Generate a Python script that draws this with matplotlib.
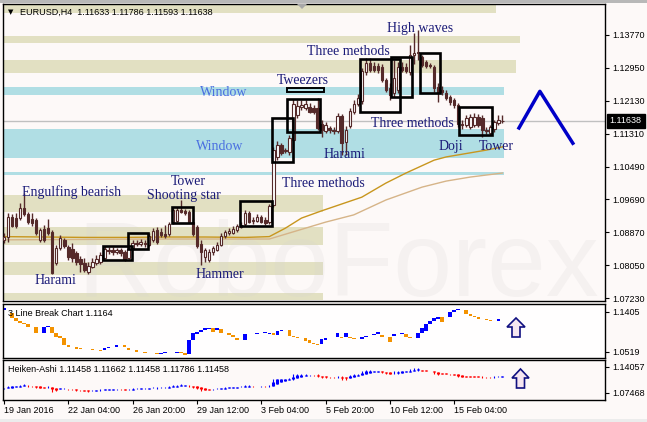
import numpy as np
import matplotlib.pyplot as plt
import matplotlib.transforms as mtransforms
from matplotlib.patches import Rectangle, Polygon

plt.rcParams['font.family'] = ['Liberation Sans', 'DejaVu Sans']

# ---- EURUSD H4 candles ----
opens = [
    1.0868, 1.0875, 1.0925, 1.0922, 1.0922, 1.0947, 1.0932, 1.0920, 1.0917, 1.0868,
    1.0895, 1.0897, 1.0887, 1.0810, 1.0848, 1.0868, 1.0850, 1.0845, 1.0835, 1.0820,
    1.0810, 1.0788, 1.0801, 1.0810, 1.0813, 1.0823, 1.0843, 1.0843, 1.0838, 1.0843,
    1.0838, 1.0823, 1.0848, 1.0860, 1.0858, 1.0860, 1.0855, 1.0868, 1.0892, 1.0887,
    1.0882, 1.0882, 1.0912, 1.0915, 1.0942, 1.0940, 1.0937, 1.0912, 1.0900, 1.0858,
    1.0825, 1.0818, 1.0838, 1.0843, 1.0855, 1.0878, 1.0885, 1.0885, 1.0892, 1.0900,
    1.0907, 1.0935, 1.0915, 1.0915, 1.0925, 1.0917, 1.0912, 1.0955, 1.1074, 1.1104,
    1.1089, 1.1086, 1.1116, 1.1178, 1.1198, 1.1196, 1.1198, 1.1196, 1.1196, 1.1156,
    1.1138, 1.1146, 1.1141, 1.1138, 1.1176, 1.1111, 1.1151, 1.1186, 1.1206, 1.1213,
    1.1285, 1.1307, 1.1300, 1.1300, 1.1297, 1.1265, 1.1245, 1.1233, 1.1240, 1.1297,
    1.1297, 1.1285, 1.1327, 1.1332, 1.1322, 1.1310, 1.1302, 1.1297, 1.1248, 1.1240,
    1.1233, 1.1223, 1.1216, 1.1203, 1.1156, 1.1153, 1.1148, 1.1153, 1.1173, 1.1171,
    1.1141, 1.1133, 1.1143, 1.1158, 1.11633]
closes = [
    1.0875, 1.0925, 1.0902, 1.0902, 1.0947, 1.0932, 1.0912, 1.0910, 1.0885, 1.0892,
    1.0868, 1.0885, 1.0786, 1.0848, 1.0873, 1.0853, 1.0825, 1.0823, 1.0813, 1.0808,
    1.0793, 1.0803, 1.0813, 1.0820, 1.0830, 1.0845, 1.0840, 1.0838, 1.0843, 1.0835,
    1.0820, 1.0845, 1.0860, 1.0858, 1.0863, 1.0858, 1.0878, 1.0890, 1.0863, 1.0880,
    1.0878, 1.0907, 1.0942, 1.0942, 1.0937, 1.0935, 1.0912, 1.0882, 1.0853, 1.0838,
    1.0843, 1.0838, 1.0848, 1.0855, 1.0878, 1.0887, 1.0890, 1.0895, 1.0902, 1.0905,
    1.0935, 1.0912, 1.0917, 1.0925, 1.0912, 1.0910, 1.0952, 1.1091, 1.1104, 1.1084,
    1.1091, 1.1121, 1.1206, 1.1201, 1.1203, 1.1206, 1.1186, 1.1186, 1.1146, 1.1141,
    1.1153, 1.1141, 1.1138, 1.1176, 1.1109, 1.1141, 1.1188, 1.1206, 1.1220, 1.1288,
    1.1307, 1.1290, 1.1290, 1.1290, 1.1265, 1.1240, 1.1228, 1.1270, 1.1297, 1.1290,
    1.1288, 1.1327, 1.1332, 1.1335, 1.1302, 1.1300, 1.1300, 1.1245, 1.1233, 1.1235,
    1.1220, 1.1211, 1.1203, 1.1156, 1.1153, 1.1171, 1.1173, 1.1173, 1.1153, 1.1141,
    1.1138, 1.1148, 1.1161, 1.1166, 1.11638]
highs = [
    1.0885, 1.0935, 1.0932, 1.0935, 1.0960, 1.0984, 1.0937, 1.0935, 1.0922, 1.0897,
    1.0905, 1.0920, 1.0892, 1.0855, 1.0880, 1.0873, 1.0855, 1.0860, 1.0840, 1.0828,
    1.0823, 1.0813, 1.0823, 1.0830, 1.0838, 1.0853, 1.0850, 1.0850, 1.0848, 1.0848,
    1.0843, 1.0850, 1.0868, 1.0868, 1.0870, 1.0868, 1.0885, 1.0897, 1.0900, 1.0897,
    1.0905, 1.0912, 1.0947, 1.0950, 1.0967, 1.0945, 1.0942, 1.0922, 1.0905, 1.0868,
    1.0848, 1.0845, 1.0853, 1.0863, 1.0885, 1.0892, 1.0897, 1.0902, 1.0907, 1.0912,
    1.0942, 1.0940, 1.0925, 1.0932, 1.0930, 1.0925, 1.0957, 1.1099, 1.1114, 1.1109,
    1.1096, 1.1129, 1.1218, 1.1216, 1.1216, 1.1216, 1.1208, 1.1203, 1.1220, 1.1166,
    1.1161, 1.1151, 1.1148, 1.1183, 1.1181, 1.1151, 1.1196, 1.1216, 1.1230, 1.1295,
    1.1320, 1.1320, 1.1310, 1.1307, 1.1305, 1.1270, 1.1258, 1.1315, 1.1310, 1.1310,
    1.1307, 1.1352, 1.1382, 1.1389, 1.1327, 1.1315, 1.1307, 1.1302, 1.1258, 1.1250,
    1.1240, 1.1228, 1.1220, 1.1208, 1.1166, 1.1178, 1.1181, 1.1183, 1.1181, 1.1178,
    1.1148, 1.1153, 1.1166, 1.1178, 1.11786]
lows = [
    1.0860, 1.0863, 1.0900, 1.0897, 1.0917, 1.0927, 1.0907, 1.0902, 1.0880, 1.0863,
    1.0863, 1.0880, 1.0783, 1.0805, 1.0843, 1.0848, 1.0818, 1.0813, 1.0805, 1.0788,
    1.0788, 1.0783, 1.0798, 1.0805, 1.0808, 1.0820, 1.0833, 1.0830, 1.0833, 1.0828,
    1.0815, 1.0820, 1.0845, 1.0853, 1.0853, 1.0850, 1.0853, 1.0863, 1.0858, 1.0875,
    1.0873, 1.0878, 1.0907, 1.0912, 1.0935, 1.0930, 1.0910, 1.0878, 1.0848, 1.0805,
    1.0813, 1.0813, 1.0830, 1.0840, 1.0853, 1.0873, 1.0880, 1.0882, 1.0887, 1.0897,
    1.0902, 1.0910, 1.0907, 1.0912, 1.0910, 1.0905, 1.0907, 1.0950, 1.1066, 1.1079,
    1.1084, 1.1079, 1.1071, 1.1171, 1.1191, 1.1191, 1.1183, 1.1181, 1.1141, 1.1124,
    1.1133, 1.1133, 1.1131, 1.1133, 1.1079, 1.1079, 1.1146, 1.1181, 1.1201, 1.1206,
    1.1278, 1.1285, 1.1285, 1.1283, 1.1260, 1.1235, 1.1216, 1.1223, 1.1233, 1.1285,
    1.1283, 1.1278, 1.1305, 1.1315, 1.1297, 1.1295, 1.1295, 1.1235, 1.1211, 1.1228,
    1.1216, 1.1203, 1.1196, 1.1148, 1.1143, 1.1148, 1.1143, 1.1148, 1.1148, 1.1124,
    1.1131, 1.1129, 1.1136, 1.1153, 1.11593]

# moving averages (bar index, value)
ma_fast_idx = [0, 10, 20, 30, 40, 50, 60, 66, 70, 74, 79, 84, 89, 95, 100, 107, 110, 120, 124]
ma_fast = [1.0876, 1.0875, 1.0874, 1.0874, 1.0875, 1.0875, 1.0874, 1.0876, 1.0897, 1.0922,
           1.0940, 1.0957, 1.0974, 1.1009, 1.1034, 1.1066, 1.1074, 1.1091, 1.1099]
ma_slow_idx = [0, 20, 40, 66, 70, 80, 87, 95, 104, 110, 116, 124]
ma_slow = [1.0868, 1.0869, 1.0870, 1.0870, 1.0882, 1.0912, 1.0930, 1.0967, 1.0999, 1.1014, 1.1024, 1.1034]

# support / resistance zones: (low, high, last bar)
khaki_zones = [(1.1432, 1.1452, 122.4), (1.1357, 1.1375, 128.4), (1.1283, 1.1315, 127.4),
               (1.0937, 1.0979, 79.4), (1.0855, 1.0900, 79.4), (1.0781, 1.0813, 79.4),
               (1.0719, 1.0736, 79.4)]
window_zones = [(1.1228, 1.1248, 124.4), (1.1071, 1.1143, 124.4), (1.1029, 1.1037, 124.4)]

# pattern boxes: (first bar, last bar, low, high)
pattern_boxes = [(24.6, 31.8, 1.0818, 1.0853), (30.8, 35.8, 1.0845, 1.0885),
                 (41.8, 47.0, 1.0910, 1.0950), (58.7, 66.7, 1.0902, 1.0965),
                 (66.7, 71.9, 1.1061, 1.1171), (70.4, 78.6, 1.1136, 1.1218),
                 (88.6, 98.5, 1.1186, 1.1317), (96.3, 101.5, 1.1223, 1.1322),
                 (103.5, 108.5, 1.1233, 1.1332), (113.2, 121.4, 1.1129, 1.1198)]
tweezers_bar = (70.4, 79.6, 1.1235, 1.1245)

pattern_labels = [("Engulfing bearish", 16.9, 1.0986), ("Harami", 12.9, 1.0766),
                  ("Tower", 45.8, 1.1012), ("Shooting star", 44.8, 1.0979),
                  ("Hammer", 53.7, 1.0783), ("Three methods", 79.4, 1.1007),
                  ("Tweezers", 74.4, 1.1265), ("Three methods", 85.6, 1.1337),
                  ("Harami", 84.6, 1.1079), ("High waves", 103.5, 1.1394),
                  ("Three methods", 101.5, 1.1156), ("Doji", 111.2, 1.1101),
                  ("Tower", 122.4, 1.1101)]
window_labels = [("Window", 54.7, 1.1235), ("Window", 53.7, 1.1101)]

forecast_i = [128.1, 133.3, 141.5]
forecast_p = [1.1146, 1.1237, 1.1108]

last_price = 1.11638
main_ticks = [1.13770, 1.12950, 1.12130, 1.11310, 1.10490, 1.09690, 1.08870, 1.08050, 1.07230]

# 3 line break bricks: slot, low, high, up
lb_slot = [0, 2, 3, 4, 5, 6, 8, 10, 11, 12, 13, 14, 15, 16, 18, 19, 22, 24, 25, 26,
           28, 30, 31, 33, 35, 36, 38, 39, 40, 43, 44, 45, 46, 47, 48, 49, 50, 51, 52, 53,
           54, 56, 57, 58, 60, 63, 65, 66, 67, 68, 69, 71, 72, 73, 75, 76, 77, 78, 79, 80,
           83, 84, 85, 86, 87, 89, 90, 92, 93, 94, 96, 97, 99, 100, 101, 103, 104, 105, 106, 107,
           108, 109, 111, 112, 113, 115, 116, 117, 118, 120, 121, 123]
lb_lo = [1.1449, 1.1265, 1.1212, 1.1168, 1.1139, 1.1080, 1.0933, 1.0933, 1.1080, 1.0933,
         1.0858, 1.0822, 1.0674, 1.0623, 1.0593, 1.0578, 1.0563, 1.0541, 1.0563, 1.0601,
         1.0637, 1.0623, 1.0563, 1.0526, 1.0504, 1.0489, 1.0475, 1.0475, 1.0489, 1.0504,
         1.0489, 1.0453, 1.0475, 1.0785, 1.0918, 1.0969, 1.1006, 1.1029, 1.0955, 1.1006,
         1.0933, 1.0896, 1.0858, 1.0785, 1.0785, 1.0918, 1.0947, 1.0925, 1.0889, 1.0896,
         1.0984, 1.0880, 1.0844, 1.0822, 1.0763, 1.0725, 1.0696, 1.0674, 1.0696, 1.0785,
         1.0858, 1.0822, 1.0858, 1.0822, 1.0800, 1.0807, 1.0858, 1.0896, 1.0911, 1.0858,
         1.0747, 1.0880, 1.0911, 1.0858, 1.0822, 1.0822, 1.0947, 1.0984, 1.1133, 1.1206,
         1.1243, 1.1177, 1.1301, 1.1398, 1.1442, 1.1354, 1.1324, 1.1294, 1.1250, 1.1228,
         1.1212, 1.1212]
lb_hi = [1.1487, 1.1376, 1.1265, 1.1212, 1.1168, 1.1139, 1.1066, 1.1066, 1.1102, 1.1080,
         1.0933, 1.0873, 1.0822, 1.0674, 1.0623, 1.0601, 1.0586, 1.0563, 1.0601, 1.0637,
         1.0674, 1.0674, 1.0601, 1.0563, 1.0526, 1.0504, 1.0489, 1.0489, 1.0512, 1.0526,
         1.0526, 1.0489, 1.0785, 1.0933, 1.0969, 1.1006, 1.1044, 1.1058, 1.1044, 1.1044,
         1.1022, 1.0933, 1.0896, 1.0836, 1.0911, 1.0947, 1.0969, 1.0947, 1.0933, 1.0984,
         1.1006, 1.1006, 1.0880, 1.0844, 1.0822, 1.0785, 1.0725, 1.0696, 1.0800, 1.0822,
         1.0933, 1.0858, 1.0933, 1.0858, 1.0822, 1.0858, 1.0880, 1.0911, 1.0955, 1.0896,
         1.0858, 1.0911, 1.0947, 1.0911, 1.0858, 1.0947, 1.1044, 1.1133, 1.1206, 1.1265,
         1.1301, 1.1301, 1.1398, 1.1449, 1.1471, 1.1449, 1.1354, 1.1324, 1.1294, 1.1250,
         1.1228, 1.1243]
lb_up = [1, 0, 0, 0, 0, 0, 0, 1, 1, 0, 0, 0, 0, 0, 0, 0, 0, 0, 1, 1,
         1, 0, 0, 0, 0, 0, 0, 1, 1, 1, 0, 0, 1, 1, 1, 1, 1, 1, 0, 1,
         0, 0, 0, 0, 1, 1, 1, 1, 0, 1, 1, 0, 0, 0, 0, 0, 0, 0, 1, 1,
         1, 0, 1, 0, 0, 1, 1, 1, 1, 0, 0, 1, 1, 0, 0, 1, 1, 1, 1, 1,
         1, 0, 1, 1, 1, 0, 0, 0, 0, 0, 0, 1]

time_ticks = [0, 16, 32, 48, 64, 80, 96, 112]
time_labels = ["19 Jan 2016", "22 Jan 04:00", "26 Jan 20:00", "29 Jan 12:00",
               "3 Feb 04:00", "5 Feb 20:00", "10 Feb 12:00", "15 Feb 04:00"]

BG = '#fdf9f8'
KHAKI = '#e2e0c2'
LBLUE = '#b0dee4'
CANDLE = '#552a2a'
NAVY = '#1a1a78'
W, H = 647, 422

fig = plt.figure(figsize=(W / 100, H / 100), dpi=100, facecolor=BG)


def px_axes(x0, y0, x1, y1):
    return fig.add_axes([x0 / W, 1 - y1 / H, (x1 - x0) / W, (y1 - y0) / H])


def px_pt(x, y):
    return (x / W, 1 - y / H)


ax = px_axes(3, 4, 605, 301)
ax2 = px_axes(3, 304, 605, 358)
ax3 = px_axes(3, 360, 605, 400)

for a in (ax, ax2, ax3):
    a.set_facecolor(BG)
    a.set_xlim(-0.25, 149.5)
    for s in a.spines.values():
        s.set_color('black')
        s.set_linewidth(1)
    a.yaxis.tick_right()
    a.tick_params(axis='y', length=3, width=0.8, labelsize=6.5, pad=2)
    a.tick_params(axis='x', bottom=False, labelbottom=False)
ax2.set_facecolor('#fffefe')

ax.set_ylim(1.0716, 1.1454)
ax2.set_ylim(1.0386, 1.1582)
ax3.set_ylim(1.0569, 1.1583)

# zones
for lo, hi, end in khaki_zones:
    ax.add_patch(Rectangle((-0.25, lo), end + 0.25, hi - lo, color=KHAKI, lw=0, zorder=0.5))
for lo, hi, end in window_zones:
    ax.add_patch(Rectangle((-0.25, lo), end + 0.25, hi - lo, color=LBLUE, lw=0, zorder=0.5))

ax.text(0.123, 0.017, 'RoboForex', transform=ax.transAxes, fontsize=76,
        family='Liberation Sans', color='#d6d2d2', alpha=0.2, ha='left', va='baseline', zorder=1)

ax.axhline(last_price, color='#c0c0c0', lw=1, zorder=1.5)

ax.plot(ma_slow_idx, ma_slow, color='#d6b488', lw=1, zorder=2)
ax.plot(ma_fast_idx, ma_fast, color='#c8961e', lw=1, zorder=2)

# candles
o = np.array(opens)
c = np.array(closes)
h = np.array(highs)
l = np.array(lows)
x = np.arange(len(o))
up = c >= o
ax.vlines(x, l, h, color=CANDLE, lw=1, zorder=3)
ax.bar(x, c - o, bottom=o, width=0.6, color=np.where(up, 'white', CANDLE),
       edgecolor=CANDLE, lw=0.8, zorder=4)

for x0, x1, lo, hi in pattern_boxes:
    ax.add_patch(Rectangle((x0, lo), x1 - x0, hi - lo, fill=False, ec='black', lw=1.9, zorder=5))
x0, x1, lo, hi = tweezers_bar
ax.add_patch(Rectangle((x0, lo), x1 - x0, hi - lo, fill=False, ec='black', lw=1.4, zorder=5))

for txt, xi, p in pattern_labels:
    ax.text(xi, p, txt, color=NAVY, fontsize=10, family='Liberation Serif',
            ha='center', va='center', zorder=6)
for txt, xi, p in window_labels:
    ax.text(xi, p, txt, color='#4a6fe0', fontsize=10, family='Liberation Serif',
            ha='center', va='center', zorder=6)

ax.plot(forecast_i, forecast_p, color='#0000c8', lw=2.5, zorder=6)

ax.set_yticks(main_ticks)
ax.set_yticklabels(['%.5f' % t for t in main_ticks])
blend = mtransforms.blended_transform_factory(ax.transAxes, ax.transData)
ax.text(1.008, last_price, '%.5f' % last_price, transform=blend, color='white', fontsize=6.5,
        ha='left', va='center', clip_on=False, zorder=10,
        bbox=dict(boxstyle='square,pad=0.3', fc='black', ec='black'))

# 3 line break
ax2.bar(lb_slot, np.array(lb_hi) - np.array(lb_lo), bottom=lb_lo, width=0.9,
        color=['#0000ff' if u else '#f39200' for u in lb_up], lw=0)
ax2.set_yticks([1.1405, 1.0519])
ax2.set_yticklabels(['1.1405', '1.0519'])

# heiken ashi derived from the candles
ha_c = (o + h + l + c) / 4
ha_o = np.empty_like(ha_c)
ha_o[0] = (o[0] + c[0]) / 2
for i in range(1, len(ha_c)):
    ha_o[i] = (ha_o[i - 1] + ha_c[i - 1]) / 2
ha_h = np.maximum.reduce([h, ha_o, ha_c])
ha_l = np.minimum.reduce([l, ha_o, ha_c])
ha_col = np.where(ha_c >= ha_o, '#0000ff', '#ff0000')
ax3.vlines(x, ha_l, ha_h, colors=ha_col, lw=0.8)
ax3.vlines(x, np.minimum(ha_o, ha_c), np.maximum(ha_o, ha_c), colors=ha_col, lw=2.2)
ax3.set_yticks([1.14057, 1.07468])
ax3.set_yticklabels(['1.14057', '1.07468'])
ax3.set_xticks(time_ticks)
ax3.set_xticklabels(time_labels)
ax3.tick_params(axis='x', bottom=True, labelbottom=True, length=3, width=0.8,
                labelsize=6.5, pad=1)
for t in ax3.get_xticklabels():
    t.set_ha('left')

# titles
fig.text(8 / W, 1 - 12 / H, '\u25bc', fontsize=5, va='center', family='DejaVu Sans')
fig.text(20 / W, 1 - 12 / H, 'EURUSD,H4  1.11633 1.11786 1.11593 1.11638', fontsize=6.5, va='center')
fig.text(8 / W, 1 - 313 / H, '3 Line Break Chart 1.1164', fontsize=6.5, va='center')
fig.text(8 / W, 1 - 369 / H, 'Heiken-Ashi 1.11458 1.11662 1.11458 1.11786 1.11458',
         fontsize=6.5, va='center')


def up_arrow(x0, x1, ytop, ybot):
    cx = (x0 + x1) / 2
    yh = ytop + 9
    pts = [(cx, ytop), (x1, yh), (cx + 4, yh), (cx + 4, ybot), (cx - 4, ybot), (cx - 4, yh), (x0, yh)]
    fig.add_artist(Polygon([px_pt(*p) for p in pts], closed=True, transform=fig.transFigure,
                           fc='#f6e6f0', ec='#101080', lw=1.2))


up_arrow(507, 525, 318, 337)
up_arrow(512, 529, 369, 388)

# window frame bits
fig.add_artist(Rectangle((0, 1 - 2.5 / H), 1, 2.5 / H, transform=fig.transFigure, color='#b8b8b8', lw=0))
fig.add_artist(Rectangle((0, 0), 1, 3 / H, transform=fig.transFigure, color='#ececec', lw=0))
fig.add_artist(Polygon([px_pt(297, 4), px_pt(307, 4), px_pt(302, 9)], closed=True,
                       transform=fig.transFigure, color='#a8a8a8', lw=0))

fig.savefig('out.png', dpi=100, facecolor=BG)
